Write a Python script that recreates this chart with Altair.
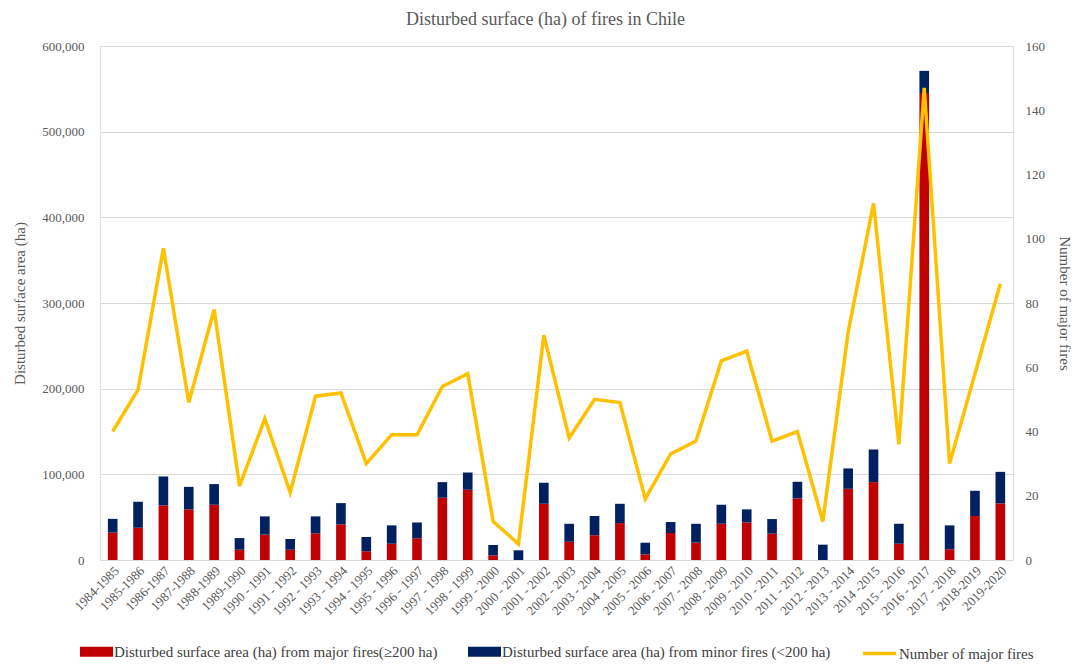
import altair as alt
import pandas as pd

seasons = ["1984-1985", "1985-1986", "1986-1987", "1987-1988", "1988-1989", "1989-1990",
           "1990 - 1991", "1991 - 1992", "1992 - 1993", "1993 - 1994", "1994 - 1995",
           "1995 - 1996", "1996 - 1997", "1997 - 1998", "1998 - 1999", "1999 - 2000",
           "2000 - 2001", "2001 - 2002", "2002 - 2003", "2003 - 2004", "2004 - 2005",
           "2005 - 2006", "2006 - 2007", "2007 - 2008", "2008 - 2009", "2009 - 2010",
           "2010 - 2011", "2011 - 2012", "2012 - 2013", "2013 - 2014", "2014 -2015",
           "2015 - 2016", "2016 - 2017", "2017 - 2018", "2018-2019", "2019-2020"]

major_area = [32000, 37600, 63700, 59100, 64500, 12000, 29500, 12000, 31100, 41600, 10100,
              19000, 25300, 72600, 82000, 5400, 0, 65600, 21300, 28800, 43100,
              6600, 31500, 20200, 42300, 43900, 30700, 71900, 0, 83100, 90900,
              19000, 545000, 12500, 51300, 66100]

total_area = [48000, 68000, 97500, 85400, 88600, 25600, 50900, 24500, 50900, 66400, 26800,
              40400, 43900, 90900, 102200, 17500, 11300, 90100, 42300, 51300, 65600,
              20200, 44300, 42300, 64500, 59100, 47800, 91300, 17900, 106900, 129000,
              42300, 571000, 40400, 80800, 102900]

minor_area = [t - m for t, m in zip(total_area, major_area)]

major_fires = [40, 53, 97, 49, 78, 23, 44, 21, 51, 52, 30,
               39, 39, 54, 58, 12, 5, 70, 38, 50, 49,
               19, 33, 37, 62, 65, 37, 40, 12, 71, 111,
               36, 147, 30, 58, 86]

lab_major = "Disturbed surface area (ha) from major fires(\u2265200 ha)"
lab_minor = "Disturbed surface area (ha) from minor fires (<200 ha)"
lab_line = "Number of major fires"

rows = []
for i, s in enumerate(seasons):
    rows.append({"season": s, "type": lab_major, "order": 0, "area": major_area[i]})
    rows.append({"season": s, "type": lab_minor, "order": 1, "area": minor_area[i]})
bars_df = pd.DataFrame(rows)
line_df = pd.DataFrame({"season": seasons, "fires": major_fires, "series": [lab_line] * len(seasons)})

FONT = "Liberation Serif"
GREY = "#595959"

xenc = alt.X("season:N", sort=seasons, title=None,
             scale=alt.Scale(paddingInner=0.62, paddingOuter=0.31),
             axis=alt.Axis(labelAngle=-45, labelFont=FONT, labelFontSize=13, labelColor=GREY,
                           ticks=False, domainColor="#D9D9D9", labelPadding=4))

rect_path = "M-1,-0.3H1V0.3H-1Z"

bars = alt.Chart(bars_df).mark_bar().encode(
    x=xenc,
    y=alt.Y("area:Q", stack="zero",
            scale=alt.Scale(domain=[0, 600000]),
            axis=alt.Axis(values=[0, 100000, 200000, 300000, 400000, 500000, 600000],
                          labelExpr="format(datum.value, ',.0f')",
                          title="Disturbed surface area (ha)", titleFont=FONT, titleFontSize=15,
                          titleFontWeight="normal", titleColor=GREY, titlePadding=14,
                          labelFont=FONT, labelFontSize=13, labelColor=GREY, labelPadding=16,
                          ticks=False, domain=False, gridColor="#D9D9D9")),
    color=alt.Color("type:N",
                    scale=alt.Scale(domain=[lab_major, lab_minor], range=["#C00000", "#002060"]),
                    legend=alt.Legend(title=None, orient="none", legendX=-20, legendY=589,
                                      direction="horizontal", symbolType=rect_path, symbolSize=1089,
                                      symbolStrokeWidth=0, labelFont=FONT, labelFontSize=15,
                                      labelColor="#404040", columnPadding=30, labelOffset=1,
                                      labelLimit=500)),
    order=alt.Order("order:Q"),
)

line = alt.Chart(line_df).mark_line(strokeWidth=3.5).encode(
    x=xenc,
    y=alt.Y("fires:Q",
            scale=alt.Scale(domain=[0, 160]),
            axis=alt.Axis(orient="right", values=[0, 20, 40, 60, 80, 100, 120, 140, 160],
                          title="Number of major fires", titleFont=FONT, titleFontSize=15,
                          titleFontWeight="normal", titleColor=GREY, titlePadding=12,
                          labelFont=FONT, labelFontSize=13, labelColor=GREY, labelPadding=12,
                          ticks=False, domain=False, grid=False)),
    stroke=alt.Stroke("series:N", scale=alt.Scale(domain=[lab_line], range=["#FFC000"]),
                      legend=alt.Legend(title=None, orient="none", legendX=761, legendY=589,
                                        symbolType="stroke", symbolStrokeWidth=3.5, symbolSize=1100,
                                        labelFont=FONT, labelFontSize=15, labelColor="#404040",
                                        labelOffset=1, labelLimit=300)),
)

chart = alt.layer(bars, line).resolve_scale(y="independent", color="independent").resolve_legend(
    color="independent", stroke="independent"
).properties(
    width=913, height=514,
    title=alt.TitleParams("Disturbed surface (ha) of fires in Chile", font=FONT, fontSize=18,
                          fontWeight="normal", color=GREY, anchor="middle", dx=-11, offset=11),
    padding={"left": 92, "top": 38, "right": 59, "bottom": 102},
    autosize=alt.AutoSizeParams(type="none"),
).configure_view(stroke=None).configure(background="white")

chart.save("out.html", embed_options={"renderer": "svg", "actions": False})
